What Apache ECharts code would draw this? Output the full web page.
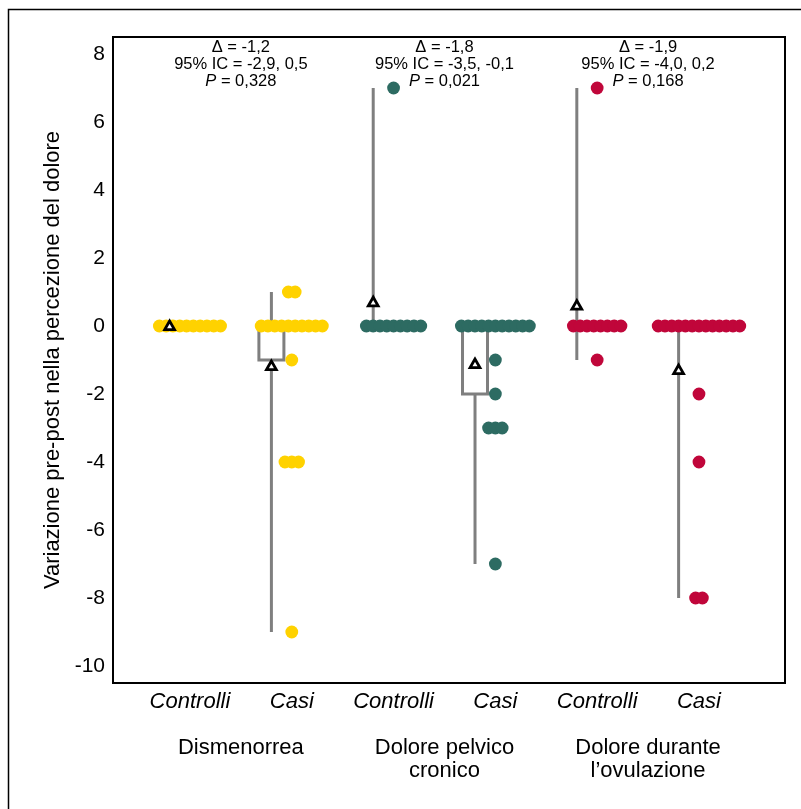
<!DOCTYPE html>
<html>
<head>
<meta charset="utf-8">
<script src="https://cdn.jsdelivr.net/npm/echarts@6/dist/echarts.min.js"></script>
<style>html,body{margin:0;padding:0;background:#fff;}#c{width:801px;height:809px;}</style>
</head>
<body>
<div id="c"></div>
<script>
// ---- data ----
const categories = ['Controlli', 'Casi', 'Controlli', 'Casi', 'Controlli', 'Casi'];
const groupNames = ['Dismenorrea', 'Dolore pelvico\ncronico', 'Dolore durante\nl\u2019ovulazione'];
const yTicks = [-10, -8, -6, -4, -2, 0, 2, 4, 6, 8];
const dismControlli = [0, 0, 0, 0, 0, 0, 0, 0, 0, 0];
const dismCasi = [1, 1, 0, 0, 0, 0, 0, 0, 0, 0, 0, 0, -1, -4, -4, -4, -9];
const pelvControlli = [7, 0, 0, 0, 0, 0, 0, 0, 0, 0];
const pelvCasi = [0, 0, 0, 0, 0, 0, 0, 0, 0, 0, 0, -1, -2, -3, -3, -3, -7];
const ovulControlli = [7, 0, 0, 0, 0, 0, 0, 0, 0, -1];
const ovulCasi = [0, 0, 0, 0, 0, 0, 0, 0, 0, 0, 0, 0, 0, -2, -4, -8, -8];
const deltaLabels = ['-1,2', '-1,8', '-1,9'];
const ciLabels = ['-2,9, 0,5', '-3,5, -0,1', '-4,0, 0,2'];
const pLabels = ['0,328', '0,021', '0,168'];
const groupColors = ['#FFD200', '#2D6B62', '#C0063A'];

// ---- layout ----
const FONT = '"Liberation Sans", Arial, sans-serif';
const DOT_R = 6.4, DOT_STEP = 6.8, BOX_SHIFT = 0.2, BOX_HALF = 12.5;
const allGroups = [dismControlli, dismCasi, pelvControlli, pelvCasi, ovulControlli, ovulCasi];

function quantile(sorted, p) {
  const pos = (sorted.length - 1) * p, lo = Math.floor(pos), hi = Math.ceil(pos);
  return sorted[lo] + (sorted[hi] - sorted[lo]) * (pos - lo);
}

const dotData = [], boxData = [], meanData = [];
allGroups.forEach((vals, gi) => {
  const x = gi + 1;
  const counts = {};
  vals.forEach(v => { counts[v] = (counts[v] || 0) + 1; });
  Object.keys(counts).forEach(k => {
    const n = counts[k];
    for (let i = 0; i < n; i++) dotData.push([x, Number(k), i, n, Math.floor(gi / 2)]);
  });
  const s = vals.slice().sort((a, b) => a - b);
  boxData.push([x - BOX_SHIFT, s[0], quantile(s, 0.25), quantile(s, 0.5), quantile(s, 0.75), s[s.length - 1]]);
  meanData.push([x - BOX_SHIFT, vals.reduce((a, b) => a + b, 0) / vals.length]);
});
const annData = deltaLabels.map((d, i) => [2 * i + 1.5, 8.5, i]);

const chart = echarts.init(document.getElementById('c'), null, { renderer: 'canvas' });
const xMin = 0.244, xMax = 6.845;
chart.setOption({
  animation: false,
  backgroundColor: '#fff',
  textStyle: { fontFamily: FONT },
  grid: { left: 113, right: 16, top: 37, bottom: 126, show: true, borderColor: '#000', borderWidth: 2, backgroundColor: 'transparent' },
  xAxis: [{
    type: 'value', min: xMin, max: xMax,
    axisLine: { show: false }, axisTick: { show: false }, splitLine: { show: false },
    axisLabel: {
      customValues: [1, 2, 3, 4, 5, 6], margin: 8,
      formatter: v => categories[Math.round(v) - 1],
      fontSize: 22, fontStyle: 'italic', color: '#000', fontFamily: FONT
    }
  }, {
    type: 'value', min: xMin, max: xMax, position: 'bottom', offset: 44,
    axisLine: { show: false }, axisTick: { show: false }, splitLine: { show: false },
    axisLabel: {
      customValues: [1.5, 3.5, 5.5], margin: 9,
      formatter: v => groupNames[Math.round((v - 1.5) / 2)],
      fontSize: 22, color: '#000', lineHeight: 23, fontFamily: FONT
    }
  }],
  yAxis: {
    type: 'value', min: -10.5, max: 8.5,
    name: 'Variazione pre-post nella percezione del dolore',
    nameLocation: 'middle', nameGap: 49,
    nameTextStyle: { fontSize: 22, color: '#000', fontFamily: FONT },
    axisLine: { show: false }, axisTick: { show: false }, splitLine: { show: false },
    axisLabel: { customValues: yTicks, fontSize: 21, color: '#000', margin: 8, fontFamily: FONT }
  },
  graphic: [{
    type: 'rect', silent: true, z: -1,
    shape: { x: 8.5, y: 9.5, width: 1000, height: 1000 },
    style: { fill: 'none', stroke: '#000', lineWidth: 1.5 }
  }],
  series: [{
    type: 'custom', name: 'box', z: 2,
    data: boxData,
    renderItem: (params, api) => {
      const x = api.value(0);
      const pMin = api.coord([x, api.value(1)]);
      const pQ1 = api.coord([x, api.value(2)]);
      const pMed = api.coord([x, api.value(3)]);
      const pQ3 = api.coord([x, api.value(4)]);
      const pMax = api.coord([x, api.value(5)]);
      const st = { stroke: '#7F7F7F', lineWidth: 3, fill: 'none' };
      const children = [
        { type: 'line', shape: { x1: pMin[0], y1: pMin[1], x2: pMax[0], y2: pMax[1] }, style: st }
      ];
      if (pQ1[1] - pQ3[1] > 0.5) {
        children.push({ type: 'rect', shape: { x: pQ3[0] - BOX_HALF, y: pQ3[1], width: 2 * BOX_HALF, height: pQ1[1] - pQ3[1] }, style: { stroke: '#7F7F7F', lineWidth: 3, fill: '#fff' } });
        children.push({ type: 'line', shape: { x1: pMed[0] - BOX_HALF, y1: pMed[1], x2: pMed[0] + BOX_HALF, y2: pMed[1] }, style: st });
      }
      return { type: 'group', children };
    }
  }, {
    type: 'custom', name: 'dots', z: 3,
    data: dotData,
    renderItem: (params, api) => {
      const p = api.coord([api.value(0), api.value(1)]);
      const off = (api.value(2) - (api.value(3) - 1) / 2) * DOT_STEP;
      return { type: 'circle', shape: { cx: p[0] + off, cy: p[1], r: DOT_R }, style: { fill: groupColors[api.value(4)] } };
    }
  }, {
    type: 'custom', name: 'mean', z: 4,
    data: meanData,
    renderItem: (params, api) => {
      const p = api.coord([api.value(0), api.value(1)]);
      return {
        type: 'polygon',
        shape: { points: [[p[0], p[1] - 5], [p[0] - 4.9, p[1] + 3.6], [p[0] + 4.9, p[1] + 3.6]] },
        style: { fill: '#fff', stroke: '#000', lineWidth: 2.8, lineJoin: 'miter' }
      };
    }
  }, {
    type: 'custom', name: 'ann', z: 5,
    data: annData,
    renderItem: (params, api) => {
      const i = api.value(2);
      const p = api.coord([api.value(0), api.value(1)]);
      return {
        type: 'text',
        style: {
          x: p[0], y: p[1] + 1.5,
          text: '{n|\u0394 = ' + deltaLabels[i] + '}\n{n|95% IC = ' + ciLabels[i] + '}\n{i|P}{n| = ' + pLabels[i] + '}',
          align: 'center', verticalAlign: 'top',
          rich: {
            n: { fontSize: 16.5, lineHeight: 17, fontFamily: FONT, fill: '#000' },
            i: { fontSize: 16.5, lineHeight: 17, fontFamily: FONT, fontStyle: 'italic', fill: '#000' }
          }
        }
      };
    }
  }]
});
</script>
</body>
</html>
